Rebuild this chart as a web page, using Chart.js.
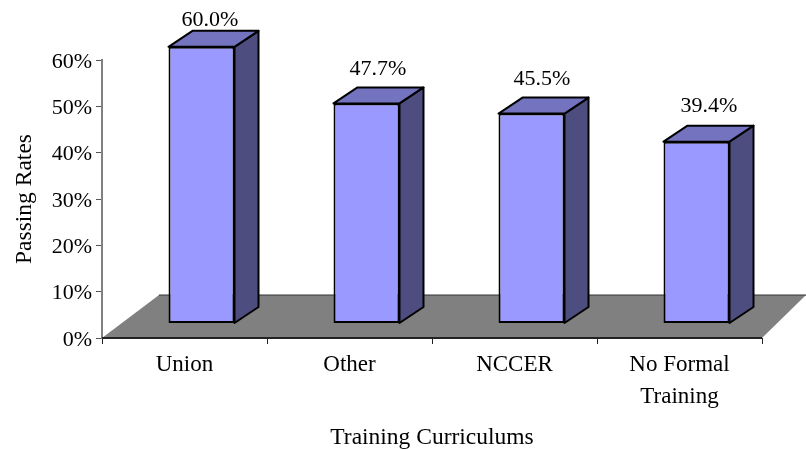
<!DOCTYPE html>
<html lang="en">
<head>
<meta charset="UTF-8">
<title>Passing Rates by Training Curriculum</title>
<script src="https://cdn.jsdelivr.net/npm/chart.js"></script>
<style>
    html, body { margin: 0; padding: 0; background: #fff; }
    #wrap { width: 806px; height: 450px; }
</style>
</head>
<body>
<div id="wrap"><canvas id="passChart" width="806" height="450"></canvas></div>
<script>
    const categories = ['Union', 'Other', 'NCCER', ['No Formal', 'Training']];
    const passingRates = [60.0, 47.7, 45.5, 39.4];
    const yTicks = [0, 10, 20, 30, 40, 50, 60];

    const FONT = '"Liberation Serif", "Times New Roman", serif';
    // the bars stand on the floor, a bit in from the axis
    const barShift = { x: 17, y: -15 };
    const depth = { x: 24, y: -16 };
    const floorDepth = { x: 57, y: -43 };
    // data labels sit a different distance off each bar in the original
    const labelLift = [27, 34, 34, 35];
    const labelShift = [8.5, 11.5, 10.5, 12.5];

    const floor3d = {
        id: 'floor3d',
        beforeDatasetsDraw(chart) {
            const { ctx, chartArea: a } = chart;
            const backY = a.bottom + floorDepth.y;
            ctx.save();
            ctx.beginPath();
            ctx.moveTo(a.left, a.bottom);
            ctx.lineTo(a.left + floorDepth.x, backY);
            ctx.lineTo(a.right + floorDepth.x - 13, backY);
            ctx.lineTo(a.right, a.bottom);
            ctx.closePath();
            ctx.fillStyle = '#808080';
            ctx.fill();
            ctx.strokeStyle = '#333';
            ctx.lineWidth = 1;
            ctx.beginPath();
            ctx.moveTo(a.left + floorDepth.x, backY);
            ctx.lineTo(a.right + floorDepth.x - 13, backY);
            ctx.stroke();
            ctx.lineWidth = 2;
            ctx.strokeStyle = '#222';
            ctx.beginPath();
            ctx.moveTo(a.left, a.bottom);
            ctx.lineTo(a.right, a.bottom);
            ctx.stroke();
            ctx.restore();
        }
    };

    // side and top faces go down first, then the library draws the front face shifted
    const bars3d = {
        id: 'bars3d',
        beforeDatasetDraw(chart, args) {
            const { ctx } = chart;
            ctx.save();
            ctx.lineWidth = 2;
            ctx.strokeStyle = '#000';
            ctx.lineJoin = 'round';
            args.meta.data.forEach(bar => {
                const l = bar.x - bar.width / 2 + barShift.x;
                const r = bar.x + bar.width / 2 + barShift.x;
                const t = bar.y + barShift.y;
                const b = bar.base + barShift.y;
                ctx.fillStyle = '#4d4d80';
                ctx.beginPath();
                ctx.moveTo(r, t);
                ctx.lineTo(r + depth.x, t + depth.y);
                ctx.lineTo(r + depth.x, b + depth.y);
                ctx.lineTo(r, b);
                ctx.closePath();
                ctx.fill();
                ctx.stroke();
                ctx.fillStyle = '#7373bf';
                ctx.beginPath();
                ctx.moveTo(l, t);
                ctx.lineTo(l + depth.x, t + depth.y);
                ctx.lineTo(r + depth.x, t + depth.y);
                ctx.lineTo(r, t);
                ctx.closePath();
                ctx.fill();
                ctx.stroke();
            });
            ctx.restore();
            ctx.save();
            ctx.translate(barShift.x, barShift.y);
        },
        afterDatasetDraw(chart) {
            chart.ctx.restore();
        },
        afterDatasetsDraw(chart) {
            const { ctx } = chart;
            const meta = chart.getDatasetMeta(0);
            ctx.save();
            ctx.font = '22px ' + FONT;
            ctx.fillStyle = '#000';
            ctx.textAlign = 'center';
            ctx.textBaseline = 'middle';
            meta.data.forEach((bar, i) => {
                const txt = passingRates[i].toFixed(1) + '%';
                ctx.fillText(txt, bar.x + barShift.x + labelShift[i], bar.y + barShift.y - labelLift[i]);
            });
            ctx.restore();
        }
    };

    new Chart(document.getElementById('passChart'), {
        type: 'bar',
        data: {
            labels: categories,
            datasets: [{
                data: passingRates,
                yAxisID: 'yBars',
                backgroundColor: '#9999ff',
                borderColor: '#000',
                borderWidth: 2,
                borderSkipped: false,
                barPercentage: 66 / 165,
                categoryPercentage: 1,
                clip: false
            }]
        },
        plugins: [floor3d, bars3d],
        options: {
            responsive: false,
            animation: false,
            layout: { padding: { top: 60, right: 44, bottom: 0, left: 0 } },
            plugins: { legend: { display: false }, tooltip: { enabled: false } },
            scales: {
                x: {
                    grid: { drawOnChartArea: false, drawTicks: true, tickLength: 6, color: '#222' },
                    border: { display: false },
                    ticks: { color: '#000', font: { family: FONT, size: 23, lineHeight: 1.4 }, maxRotation: 0, autoSkip: false, padding: 5 },
                    title: { display: true, text: 'Training Curriculums', color: '#000', font: { family: FONT, size: 23.5, lineHeight: 1.05 }, padding: { top: 14, bottom: 0 } },
                    afterFit(s) { s.height = 112; }
                },
                y: {
                    min: 0,
                    max: 60,
                    afterBuildTicks(s) { s.ticks = yTicks.map(v => ({ value: v })); },
                    grid: { drawOnChartArea: false, drawTicks: true, tickLength: 6, color: '#555' },
                    border: { display: true, color: '#808080', width: 2 },
                    ticks: { color: '#000', font: { family: FONT, size: 22 }, padding: 4, labelOffset: 2, callback: v => v + '%' },
                    title: { display: true, text: 'Passing Rates', color: '#000', font: { family: FONT, size: 23.5 }, padding: { top: 11, bottom: 8 } },
                    afterFit(s) { s.width = 102; }
                },
                // bars are a touch shorter per percent than the drawn axis
                yBars: { display: false, min: 0, max: 60.4 }
            }
        }
    });
</script>
</body>
</html>
